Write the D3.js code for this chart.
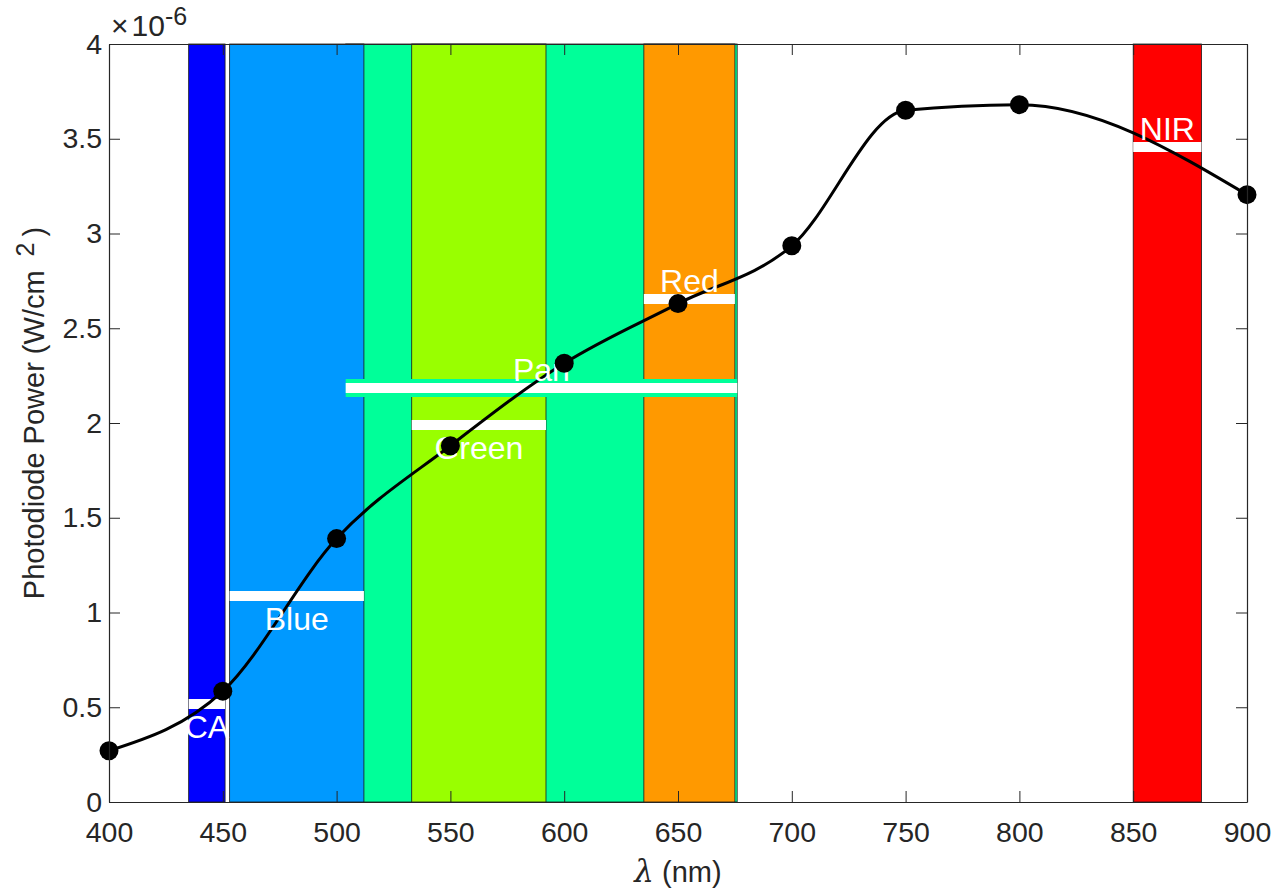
<!DOCTYPE html>
<html>
<head>
<meta charset="utf-8">
<script src="https://cdn.jsdelivr.net/npm/d3@7"></script>
<style>
  body { margin: 0; background: #fff; }
  text { font-family: "Liberation Sans", Arial, Helvetica, sans-serif; }
</style>
</head>
<body>
<div id="chart"></div>
<script>
// measured photodiode power, in units of 1e-6 W/cm^2
const wavelengths = [400, 450, 500, 550, 600, 650, 700, 750, 800, 900];
const power = [0.27, 0.585, 1.39, 1.88, 2.315, 2.63, 2.935, 3.65, 3.68, 3.205];

// spectral bands (nm), drawn in this order
const bandNames = ["CA", "Pan", "Blue", "Green", "Red", "NIR"];
const bandStart = [435, 504, 453, 533, 635, 850];
const bandEnd = [451, 676, 512, 592, 675, 880];
const bandColors = ["#0000ff", "#00ff99", "#0099ff", "#99ff00", "#ff9900", "#ff0000"];
const bandLevel = [0.517, 2.185, 1.087, 1.99, 2.655, 3.456];
const labelBelow = [true, false, true, true, false, false];

const xTicks = [400, 450, 500, 550, 600, 650, 700, 750, 800, 850, 900];
const yTicks = [0, 0.5, 1, 1.5, 2, 2.5, 3, 3.5, 4];

const width = 1276;
const height = 893;
const margin = {top: 44, right: 29, bottom: 91, left: 109};
const AXIS_COLOR = "#262626";
const TICK_LEN = 11;

const svg = d3.select("#chart")
    .append("svg")
    .attr("width", width)
    .attr("height", height);

const x = d3.scaleLinear()
    .domain([400, 900])
    .range([margin.left, width - margin.right]);

const y = d3.scaleLinear()
    .domain([0, 4])
    .range([height - margin.bottom, margin.top]);

const bands = bandNames.map((name, i) => ({
    name: name,
    start: bandStart[i],
    end: bandEnd[i],
    color: bandColors[i],
    level: bandLevel[i],
    below: labelBelow[i]
}));

// band rectangles
svg.append("g")
    .selectAll("rect")
    .data(bands)
    .join("rect")
    .attr("x", d => x(d.start))
    .attr("y", y(4))
    .attr("width", d => x(d.end) - x(d.start))
    .attr("height", y(0) - y(4))
    .style("fill", d => d.color)
    .style("stroke", "#1a1a1a")
    .style("stroke-width", 0.8);

// level bars (pan gets a coloured rim, it runs over the other bands)
const bars = svg.append("g");
bars.selectAll(".rim")
    .data(bands.filter(d => d.name == "Pan"))
    .join("line")
    .attr("class", "rim")
    .attr("x1", d => x(d.start))
    .attr("x2", d => x(d.end))
    .attr("y1", d => y(d.level))
    .attr("y2", d => y(d.level))
    .style("stroke", d => d.color)
    .style("stroke-width", 18);

bars.selectAll(".bar")
    .data(bands)
    .join("line")
    .attr("class", "bar")
    .attr("x1", d => x(d.start))
    .attr("x2", d => x(d.end))
    .attr("y1", d => y(d.level))
    .attr("y2", d => y(d.level))
    .style("stroke", "#fff")
    .style("stroke-width", 10);

// the measured curve
const points = wavelengths.map((w, i) => ({w: w, p: power[i]}));

svg.append("path")
    .datum(points)
    .attr("d", d3.line()
        .x(d => x(d.w))
        .y(d => y(d.p))
        .curve(d3.curveMonotoneX))
    .style("fill", "none")
    .style("stroke", "#000")
    .style("stroke-width", 3);

// band labels
svg.append("g")
    .selectAll("text")
    .data(bands)
    .join("text")
    .attr("x", d => x((d.start + d.end) / 2))
    .attr("y", d => d.below ? y(d.level) + 34 : y(d.level) - 7)
    .attr("text-anchor", "middle")
    .attr("font-size", 32)
    .style("fill", "#fff")
    .text(d => d.name);

svg.append("g")
    .selectAll("circle")
    .data(points)
    .join("circle")
    .attr("cx", d => x(d.w))
    .attr("cy", d => y(d.p))
    .attr("r", 9.5)
    .style("fill", "#000");

// axes, MATLAB style box with inward ticks
const xAxis = svg.append("g")
    .attr("transform", `translate(0,${y(0)})`)
    .call(d3.axisBottom(x).tickValues(xTicks).tickSizeInner(-TICK_LEN).tickSizeOuter(0).tickPadding(20));

const xAxisTop = svg.append("g")
    .attr("transform", `translate(0,${y(4)})`)
    .call(d3.axisTop(x).tickValues(xTicks).tickSizeInner(-TICK_LEN).tickSizeOuter(0).tickFormat(""));

const yAxis = svg.append("g")
    .attr("transform", `translate(${x(400)},0)`)
    .call(d3.axisLeft(y).tickValues(yTicks).tickSizeInner(-TICK_LEN).tickSizeOuter(0).tickPadding(7)
        .tickFormat(d => String(d)));

const yAxisRight = svg.append("g")
    .attr("transform", `translate(${x(900)},0)`)
    .call(d3.axisRight(y).tickValues(yTicks).tickSizeInner(-TICK_LEN).tickSizeOuter(0).tickFormat(""));

[xAxis, xAxisTop, yAxis, yAxisRight].forEach(a => {
    a.select(".domain").style("stroke", AXIS_COLOR).style("stroke-width", 1.2);
    a.selectAll(".tick line").style("stroke", AXIS_COLOR).style("stroke-width", 1);
    a.selectAll(".tick text")
        .style("font-family", '"Liberation Sans", Arial, sans-serif')
        .style("font-size", "28.5px")
        .style("fill", AXIS_COLOR);
});

// exponent label
const expo = svg.append("text")
    .attr("x", 111)
    .attr("y", 36)
    .attr("font-size", 30)
    .style("fill", AXIS_COLOR);
expo.append("tspan").style("font-weight", 300).text("\u00d7");
expo.append("tspan").attr("dx", 3).text("10");
expo.append("tspan").attr("font-size", 25).attr("dy", -11).text("-6");

// axis titles
const xLabel = svg.append("text")
    .attr("x", x(650))
    .attr("y", 882)
    .attr("text-anchor", "middle")
    .attr("font-size", 29)
    .style("fill", AXIS_COLOR);
xLabel.append("tspan").style("font-style", "italic").attr("font-size", 31)
    .style("font-family", '"DejaVu Serif", "Liberation Serif", serif').text("\u03bb");
xLabel.append("tspan").text(" (nm)");

const yLabel = svg.append("text")
    .attr("transform", `translate(44,${y(2) - 10}) rotate(-90)`)
    .attr("text-anchor", "middle")
    .attr("font-size", 29)
    .style("fill", AXIS_COLOR);
yLabel.append("tspan").text("Photodiode Power (W/cm");
yLabel.append("tspan").attr("font-size", 25).attr("dx", 14).attr("dy", -10).text("2");
yLabel.append("tspan").attr("dx", 6).attr("dy", 10).text(")");
</script>
</body>
</html>
